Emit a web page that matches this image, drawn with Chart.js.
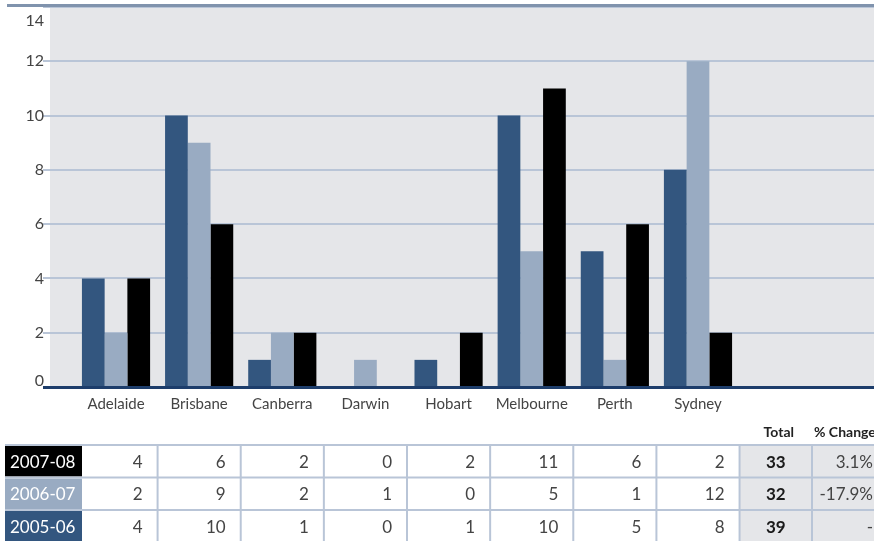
<!DOCTYPE html>
<html>
<head>
<meta charset="utf-8">
<script src="https://cdn.jsdelivr.net/npm/chart.js@4"></script>
<style>
  html, body { margin: 0; padding: 0; background: #fff; }
  #wrap { width: 874px; height: 541px; position: relative; }
</style>
</head>
<body>
<div id="wrap"><canvas id="c" width="874" height="541"></canvas></div>
<script>
// Cities along the x axis
const cities = ['Adelaide', 'Brisbane', 'Canberra', 'Darwin', 'Hobart', 'Melbourne', 'Perth', 'Sydney'];

// Counts per city, one array per financial year
const values0506 = [4, 10, 1, 0, 1, 10, 5, 8];
const values0607 = [2, 9, 2, 1, 0, 5, 1, 12];
const values0708 = [4, 6, 2, 0, 2, 11, 6, 2];

// Year-on-year change shown in the last table column
const change0708 = '3.1%';
const change0607 = '-17.9%';
const change0506 = '-';

// Value axis ticks
const yTicks = [0, 2, 4, 6, 8, 10, 12, 14];

const FONT = 'Lato, "Open Sans", sans-serif';
const TEXT = '#444444';
const GRID = '#b9c5d7';
const PLOT_BG = '#e5e6e9';

const series = [
  { label: '2005-06', values: values0506, color: '#33567f', change: change0506 },
  { label: '2006-07', values: values0607, color: '#99abc2', change: change0607 },
  { label: '2007-08', values: values0708, color: '#000000', change: change0708 }
];

const sum = arr => arr.reduce((a, b) => a + b, 0);

// Grey plot panel, drawn before the grid
const panelPlugin = {
  id: 'panel',
  beforeDraw(chart) {
    const { ctx, chartArea: a } = chart;
    ctx.save();
    ctx.fillStyle = PLOT_BG;
    ctx.fillRect(a.left, a.top, a.right - a.left, a.bottom - a.top);
    ctx.restore();
  }
};

// Top rule, baseline, value labels and the data table underneath
const framePlugin = {
  id: 'frame',
  afterDatasetsDraw(chart) {
    const { ctx, chartArea: a } = chart;
    ctx.save();
    ctx.strokeStyle = '#1d3d6b';
    ctx.lineWidth = 3;
    ctx.beginPath();
    ctx.moveTo(43, a.bottom + 0.5);
    ctx.lineTo(a.right, a.bottom + 0.5);
    ctx.stroke();
    ctx.restore();
  },
  afterDraw(chart) {
    const { ctx, chartArea: a, scales } = chart;
    const x = scales.x, y = scales.y;
    ctx.save();

    // top rule
    ctx.strokeStyle = '#8093ad';
    ctx.lineWidth = 3;
    ctx.beginPath();
    ctx.moveTo(7, a.top - 1.5);
    ctx.lineTo(a.right, a.top - 1.5);
    ctx.stroke();

    // value axis labels
    ctx.fillStyle = TEXT;
    ctx.font = '16px ' + FONT;
    ctx.textAlign = 'right';
    yTicks.forEach((v, i) => {
      const py = y.getPixelForValue(v);
      if (i === yTicks.length - 1) { ctx.textBaseline = 'top'; ctx.fillText(String(v), 44, py + 6); }
      else if (i === 0) { ctx.textBaseline = 'bottom'; ctx.fillText(String(v), 44, py + 2); }
      else { ctx.textBaseline = 'middle'; ctx.fillText(String(v), 44, py); }
    });

    // data table
    const rowTop = 445, rowH = 32.5, nRows = series.length;
    const tableBottom = rowTop + rowH * nRows;
    const colRight = cities.map((c, i) => x.getPixelForValue(i + 0.5));
    const totalLeft = colRight[colRight.length - 1];
    const totalRight = 812;
    const tableRight = a.right;

    // shaded total / change columns
    ctx.fillStyle = PLOT_BG;
    ctx.fillRect(totalLeft, rowTop, tableRight - totalLeft, tableBottom - rowTop);

    // header labels
    ctx.fillStyle = '#222';
    ctx.font = 'bold 14px ' + FONT;
    ctx.textBaseline = 'middle';
    ctx.textAlign = 'center';
    ctx.fillText('Total', (totalLeft + totalRight) / 2 + 3, 432);
    ctx.textAlign = 'left';
    ctx.fillText('% Change', totalRight + 2, 432);

    const rows = series.slice().reverse();
    rows.forEach((s, r) => {
      const top = rowTop + r * rowH;
      const cy = top + rowH / 2 + 1;
      // year cell
      ctx.fillStyle = s.color;
      ctx.fillRect(5, top + 1, 77, rowH - 2);
      ctx.fillStyle = '#fff';
      ctx.font = '17px ' + FONT;
      ctx.textAlign = 'left';
      ctx.textBaseline = 'middle';
      ctx.fillText(s.label, 10, cy);
      // city values
      ctx.fillStyle = TEXT;
      ctx.textAlign = 'right';
      s.values.forEach((v, i) => ctx.fillText(String(v), colRight[i] - 15, cy));
      // total
      ctx.fillStyle = '#1a1a1a';
      ctx.font = 'bold 17px ' + FONT;
      ctx.textAlign = 'center';
      ctx.fillText(String(sum(s.values)), (totalLeft + totalRight) / 2, cy);
      // change
      ctx.fillStyle = TEXT;
      ctx.font = '17px ' + FONT;
      ctx.textAlign = 'right';
      ctx.fillText(s.change, tableRight - 1, cy);
    });

    // table rules
    ctx.strokeStyle = GRID;
    ctx.lineWidth = 2;
    for (let r = 0; r < nRows; r++) {
      const yy = rowTop + r * rowH;
      ctx.beginPath();
      ctx.moveTo(5, yy);
      ctx.lineTo(tableRight, yy);
      ctx.stroke();
    }
    colRight.concat([totalRight]).forEach(px => {
      ctx.beginPath();
      ctx.moveTo(px, rowTop);
      ctx.lineTo(px, 541);
      ctx.stroke();
    });

    ctx.restore();
  }
};

new Chart(document.getElementById('c'), {
  type: 'bar',
  data: {
    datasets: series.map(s => ({
      label: s.label,
      data: s.values.map((v, i) => ({ x: i, y: v })),
      backgroundColor: s.color,
      borderWidth: 0,
      categoryPercentage: 0.82,
      barPercentage: 1.0
    }))
  },
  options: {
    responsive: false,
    animation: false,
    devicePixelRatio: 1,
    layout: { padding: { left: 0, right: 0, top: 7, bottom: 126 } },
    plugins: { legend: { display: false }, tooltip: { enabled: false } },
    scales: {
      x: {
        type: 'linear',
        offset: false,
        min: -0.794,
        max: 9.117,
        grid: { display: false },
        border: { display: false },
        afterBuildTicks: s => { s.ticks = cities.map((c, i) => ({ value: i })); },
        ticks: {
          autoSkip: false,
          maxRotation: 0,
          padding: 0,
          color: TEXT,
          font: { family: FONT, size: 15 },
          callback: v => cities[v] || ''
        },
        afterFit: s => { s.height = 28; }
      },
      y: {
        min: 0,
        max: 14,
        ticks: { stepSize: 2, display: false },
        grid: { color: GRID, lineWidth: 2, drawTicks: true, tickLength: 7 },
        border: { display: false },
        afterFit: s => { s.width = 50; }
      }
    }
  },
  plugins: [panelPlugin, framePlugin]
});
</script>
</body>
</html>
